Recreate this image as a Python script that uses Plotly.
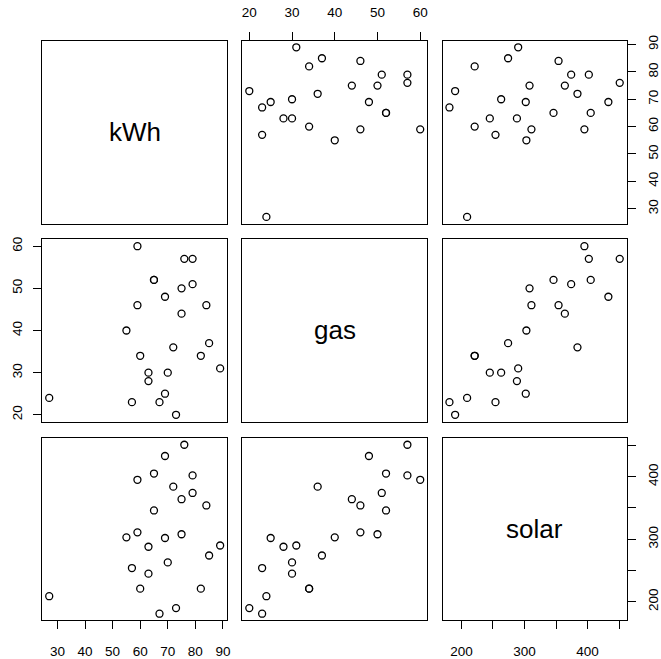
import plotly.graph_objects as go

# Data
kWh = [27, 59, 76, 79, 65, 65, 79, 75, 69, 59, 84, 75, 55, 72, 85, 60, 82, 89, 63, 70, 63, 69, 57, 67, 73]
gas = [24, 60, 57, 57, 52, 52, 51, 50, 48, 46, 46, 44, 40, 36, 37, 34, 34, 31, 30, 30, 28, 25, 23, 23, 20]
solar = [209, 395, 451, 402, 405, 346, 374, 308, 433, 311, 354, 364, 303, 384, 274, 221, 221, 290, 245, 263, 288, 302, 254, 181, 190]

var_names = ["kWh", "gas", "solar"]
variables = [kWh, gas, solar]

tick_vals = {
    "kWh": [30, 40, 50, 60, 70, 80, 90],
    "gas": [20, 30, 40, 50, 60],
    "solar": [200, 250, 300, 350, 400, 450],
}
tick_text = {
    "kWh": ["30", "40", "50", "60", "70", "80", "90"],
    "gas": ["20", "30", "40", "50", "60"],
    "solar": ["200", "", "300", "", "400", ""],
}

W, H = 661, 659
col_px = [(41.7, 227.7), (243.3, 429.3), (445.0, 630.3)]
row_px = [(36.0, 221.7), (237.7, 422.3), (439.0, 624.0)]


def ext_range(v):
    lo, hi = min(v), max(v)
    d = (hi - lo) * 0.04
    return [lo - d, hi + d]


ranges = [ext_range(v) for v in variables]

fig = go.Figure()
layout = dict(
    width=W, height=H,
    margin=dict(l=0, r=0, t=0, b=0),
    paper_bgcolor="white", plot_bgcolor="white",
    showlegend=False,
    font=dict(family="Liberation Sans, Arial, sans-serif", size=13.5, color="black"),
)
annotations = []

k = 0
for i in range(3):        # row -> y variable
    for j in range(3):    # col -> x variable
        k += 1
        xa = "xaxis" if k == 1 else f"xaxis{k}"
        ya = "yaxis" if k == 1 else f"yaxis{k}"
        xr = "x" if k == 1 else f"x{k}"
        yr = "y" if k == 1 else f"y{k}"
        x0, x1 = col_px[j]
        y0, y1 = row_px[i]
        xdom = [x0 / W, x1 / W]
        ydom = [(H - y1) / H, (H - y0) / H]

        xname = var_names[j]
        yname = var_names[i]

        xaxis = dict(domain=xdom, anchor=yr, range=ranges[j], showgrid=False, zeroline=False,
                     showline=True, linecolor="black", linewidth=1, mirror=True,
                     ticks="", showticklabels=False, fixedrange=True)
        yaxis = dict(domain=ydom, anchor=xr, range=ranges[i], showgrid=False, zeroline=False,
                     showline=True, linecolor="black", linewidth=1, mirror=True,
                     ticks="", showticklabels=False, fixedrange=True)

        if i == 2 and j in (0, 2):
            xaxis.update(ticks="outside", ticklen=8, tickcolor="black", tickwidth=1,
                         showticklabels=True, side="bottom",
                         tickvals=tick_vals[xname], ticktext=tick_text[xname],
                         ticklabelstandoff=10)
        if i == 0 and j == 1:
            xaxis.update(ticks="outside", ticklen=8, tickcolor="black", tickwidth=1,
                         showticklabels=True, side="top",
                         tickvals=tick_vals[xname], ticktext=tick_text[xname],
                         ticklabelstandoff=9)
        if j == 0 and i == 1:
            yaxis.update(ticks="outside", ticklen=8, tickcolor="black", tickwidth=1,
                         showticklabels=True, side="left", tickangle=-90,
                         tickvals=tick_vals[yname], ticktext=tick_text[yname],
                         ticklabelstandoff=6)
        if j == 2 and i in (0, 2):
            yaxis.update(ticks="outside", ticklen=8, tickcolor="black", tickwidth=1,
                         showticklabels=True, side="right", tickangle=-90,
                         tickvals=tick_vals[yname], ticktext=tick_text[yname],
                         ticklabelstandoff=6)

        layout[xa] = xaxis
        layout[ya] = yaxis

        if i == j:
            annotations.append(dict(
                x=(xdom[0] + xdom[1]) / 2, y=(ydom[0] + ydom[1]) / 2,
                xref="paper", yref="paper", text=xname, showarrow=False,
                font=dict(size=26, color="black",
                          family="Liberation Sans, Arial, sans-serif"),
                xanchor="center", yanchor="middle", yshift=0))
            fig.add_trace(go.Scatter(x=[], y=[], xaxis=xr, yaxis=yr, mode="markers"))
        else:
            fig.add_trace(go.Scatter(
                x=variables[j], y=variables[i], xaxis=xr, yaxis=yr, mode="markers",
                marker=dict(symbol="circle-open", size=7, color="black",
                            line=dict(width=1.3, color="black")),
                hoverinfo="skip"))

layout["annotations"] = annotations
fig.update_layout(**layout)
fig.write_html("out.html")
